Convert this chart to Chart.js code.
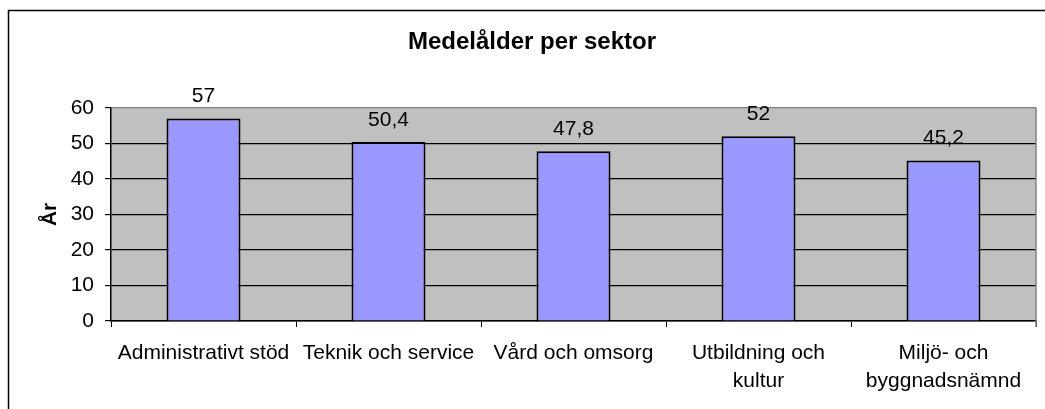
<!DOCTYPE html>
<html lang="sv">
<head>
<meta charset="utf-8">
<title>Medelålder per sektor</title>
<script src="https://cdn.jsdelivr.net/npm/chart.js@4/dist/chart.umd.min.js"></script>
<style>
    body { margin: 0; background: #ffffff; }
</style>
</head>
<body>
<canvas id="ageChart" width="1045" height="409"></canvas>
<script>
// Data for the chart
const sectors = ['Administrativt stöd', 'Teknik och service', 'Vård och omsorg', ['Utbildning och', 'kultur'], ['Miljö- och', 'byggnadsnämnd']];
const averageAge = [57, 50.4, 47.8, 52, 45.2];
const yTicks = [0, 10, 20, 30, 40, 50, 60];

// Get the 2D context of the canvas element
const ctx = document.getElementById('ageChart').getContext('2d');

const fontFamily = '"Liberation Sans", Arial, sans-serif';

// Plugin that paints the gray plot area, the outer frame and the plot frame
const backgroundPlugin = {
    id: 'excelBackground',
    beforeDraw(chart) {
        const c = chart.ctx;
        const area = chart.chartArea;
        c.save();
        // grey plot area
        c.fillStyle = '#C0C0C0';
        c.fillRect(area.left, area.top, area.right - area.left, area.bottom - area.top);
        // outer chart frame (only left and top are visible in the picture)
        c.strokeStyle = '#000000';
        c.lineWidth = 1.5;
        c.beginPath();
        c.moveTo(8.5, chart.height);
        c.lineTo(8.5, 10.5);
        c.lineTo(chart.width, 10.5);
        c.stroke();
        c.restore();
    },
    beforeDatasetsDraw(chart) {
        const c = chart.ctx;
        const area = chart.chartArea;
        c.save();
        // right side of the plot frame
        c.strokeStyle = '#808080';
        c.lineWidth = 1.5;
        c.beginPath();
        c.moveTo(area.right, area.top);
        c.lineTo(area.right, area.bottom + 6);
        c.stroke();
        c.restore();
    }
};

// Plugin that writes the value above each bar (with a decimal comma)
const valueLabelPlugin = {
    id: 'valueLabels',
    afterDatasetsDraw(chart) {
        const c = chart.ctx;
        const meta = chart.getDatasetMeta(0);
        c.save();
        c.font = '21px ' + fontFamily;
        c.fillStyle = '#000000';
        c.textAlign = 'center';
        c.textBaseline = 'middle';
        meta.data.forEach((bar, i) => {
            const text = String(averageAge[i]).replace('.', ',');
            c.fillText(text, bar.x, bar.y - 22);
        });
        c.restore();
    }
};

new Chart(ctx, {
    type: 'bar',
    data: {
        labels: sectors,
        datasets: [
            {
                label: 'Medelålder',
                data: averageAge,
                backgroundColor: '#9999FF',
                borderColor: '#000000',
                borderWidth: 2,
                categoryPercentage: 1.0,
                barPercentage: 0.4
            }
        ]
    },
    options: {
        responsive: false,
        animation: false,
        devicePixelRatio: 1,
        layout: {
            // left padding shifts the centred title to where it is in the picture
            padding: { left: 28, right: 9, top: 0, bottom: 0 }
        },
        plugins: {
            legend: { display: false },
            tooltip: { enabled: false },
            title: {
                display: true,
                text: 'Medelålder per sektor',
                color: '#000000',
                font: { family: fontFamily, size: 24, weight: 'bold', lineHeight: 1.2 },
                padding: { top: 28, bottom: 51 }
            }
        },
        scales: {
            x: {
                grid: {
                    offset: true,
                    drawOnChartArea: false,
                    drawTicks: true,
                    tickLength: 6,
                    color: '#000000'
                },
                border: { color: '#000000', width: 1.5 },
                ticks: {
                    color: '#000000',
                    font: { family: fontFamily, size: 21, lineHeight: 1.3 },
                    padding: 13,
                    autoSkip: false,
                    maxRotation: 0,
                    minRotation: 0
                },
                // fixed height so the plot bottom sits where it does in the picture
                afterFit(scale) { scale.height = 88; }
            },
            y: {
                min: yTicks[0],
                max: yTicks[yTicks.length - 1],
                afterBuildTicks(scale) {
                    scale.ticks = yTicks.map(v => ({ value: v }));
                },
                grid: {
                    color: (context) => context.tick && context.tick.value === 60 ? '#808080' : '#000000',
                    tickColor: '#000000',
                    lineWidth: 1.2,
                    tickLength: 6
                },
                border: { color: '#000000', width: 1.5 },
                ticks: {
                    color: '#000000',
                    font: { family: fontFamily, size: 21 },
                    padding: 11
                },
                title: {
                    display: true,
                    text: 'År',
                    color: '#000000',
                    font: { family: fontFamily, size: 21, weight: 'bold', lineHeight: 1.2 },
                    padding: { top: 10, bottom: 0 }
                },
                // fixed width so the plot starts at x = 111 like in the picture
                afterFit(scale) { scale.width = 83; }
            }
        }
    },
    plugins: [backgroundPlugin, valueLabelPlugin]
});
</script>
</body>
</html>
